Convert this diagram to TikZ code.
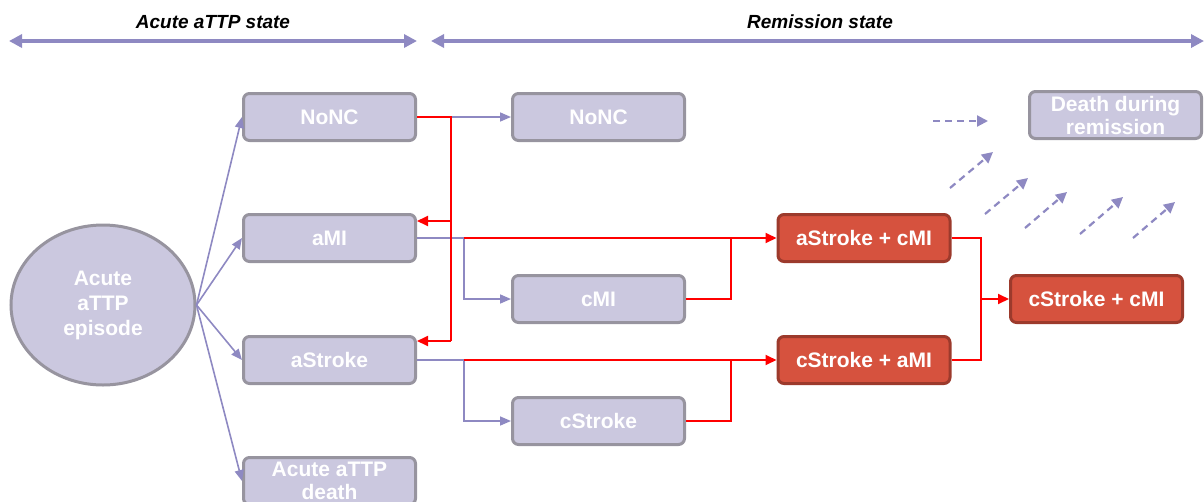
\documentclass[tikz,border=0pt]{standalone}
\usepackage{fontspec}
\setmainfont{Liberation Sans}
\usepackage{xcolor}
\definecolor{boxfill}{HTML}{CBC8DF}
\definecolor{boxline}{HTML}{97949F}
\definecolor{flowpurple}{HTML}{8E89C2}
\definecolor{combofill}{HTML}{D6523E}
\definecolor{comboline}{HTML}{9C3A2C}
\definecolor{linkred}{HTML}{FF0000}
\usetikzlibrary{arrows.meta, positioning, shapes.geometric}

\begin{document}
\begin{tikzpicture}[x=1pt, y=-1pt,
    statebox/.style={draw=boxline, fill=boxfill, line width=3pt, rounded corners=6pt,
        minimum width=172pt, minimum height=47pt, inner sep=0pt, text=white, align=center,
        font=\fontsize{21}{23}\selectfont\bfseries},
    combobox/.style={statebox, draw=comboline, fill=combofill},
    headtext/.style={font=\fontsize{19}{19}\selectfont\bfseries\itshape},
    span/.style={flowpurple, line width=4pt, {Triangle[length=13pt,width=13pt]}-{Triangle[length=13pt,width=13pt]}},
    flowline/.style={flowpurple, line width=1.6pt},
    flow/.style={flowline, -{Triangle[length=11pt,width=9pt]}},
    redline/.style={linkred, line width=1.8pt},
    redflow/.style={redline, -{Triangle[length=11pt,width=10pt]}},
    deathflow/.style={flowpurple, line width=2.2pt, dash pattern=on 7pt off 5pt, -{Triangle[length=11pt,width=11pt]}}]
    \useasboundingbox (0,0) rectangle (1204,501);
    % State headers
    \node[headtext] (acutehead) at (213,22) {Acute aTTP state};
    \node[headtext] (remhead) at (820,22) {Remission state};
    \draw[span] (9,41) -- (417,41);
    \draw[span] (431,41) -- (1204,41);
    % Acute episode and acute states
    \node[ellipse, draw=boxline, fill=boxfill, line width=3pt, minimum width=184pt, minimum height=160pt,
        inner sep=0pt, text=white, align=center, font=\fontsize{21}{25}\selectfont\bfseries]
        (episode) at (103,305) {Acute\\aTTP\\episode};
    \node[statebox] (nonca) at (329.5,117) {NoNC};
    \node[statebox] (ami) at (329.5,238) {aMI};
    \node[statebox] (astroke) at (329.5,360) {aStroke};
    \node[statebox] (acdeath) at (329.5,481) {Acute aTTP\\death};
    % Remission states
    \node[statebox] (noncr) at (598.5,117) {NoNC};
    \node[statebox] (cmi) at (598.5,299) {cMI};
    \node[statebox] (cstroke) at (598.5,421) {cStroke};
    \node[combobox] (ascmi) at (864,238) {aStroke + cMI};
    \node[combobox] (csami) at (864,360) {cStroke + aMI};
    \node[combobox] (cscmi) at (1096.5,299) {cStroke + cMI};
    \node[statebox] (remdeath) at (1115.5,115) {Death during\\remission};
    % From the acute episode
    \foreach \t in {nonca, ami, astroke, acdeath} {
        \draw[flow] (episode.east) -- (\t.west);
    }
    % Junctions
    \coordinate (ja) at (451,117);
    \coordinate (jb) at (451,221);
    \coordinate (jc) at (451,341);
    \coordinate (ka) at (464,238);
    \coordinate (kb) at (464,360);
    \coordinate (ma) at (731,238);
    \coordinate (mb) at (731,360);
    \coordinate (na) at (981,299);
    % Purple links
    \draw[flow] (ja) -- (noncr.west);
    \draw[flowline] (ami.east) -- (ka);
    \draw[flow] (ka) |- (cmi.west);
    \draw[flowline] (astroke.east) -- (kb);
    \draw[flow] (kb) |- (cstroke.west);
    % Red links
    \draw[redline] (nonca.east) -- (ja) -- (jc);
    \draw[redflow] (jb) -- (ami.east |- jb);
    \draw[redflow] (jc) -- (astroke.east |- jc);
    \draw[redflow] (ka) -- (ascmi.west);
    \draw[redline] (cmi.east) -| (ma);
    \draw[redflow] (kb) -- (csami.west);
    \draw[redline] (cstroke.east) -| (mb);
    % Combined states
    \draw[redline] (ascmi.east) -| (na);
    \draw[redline] (csami.east) -| (na);
    \draw[redflow] (na) -- (cscmi.west);
    % Death during remission
    \foreach \xa/\ya/\xb/\yb in {933/121/988/121, 950/188/993/152, 985/214/1028/178,
        1025/228/1067/192, 1080/234/1123/197, 1133/238/1175/202} {
        \draw[deathflow] (\xa,\ya) -- (\xb,\yb);
    }
\end{tikzpicture}
\end{document}
